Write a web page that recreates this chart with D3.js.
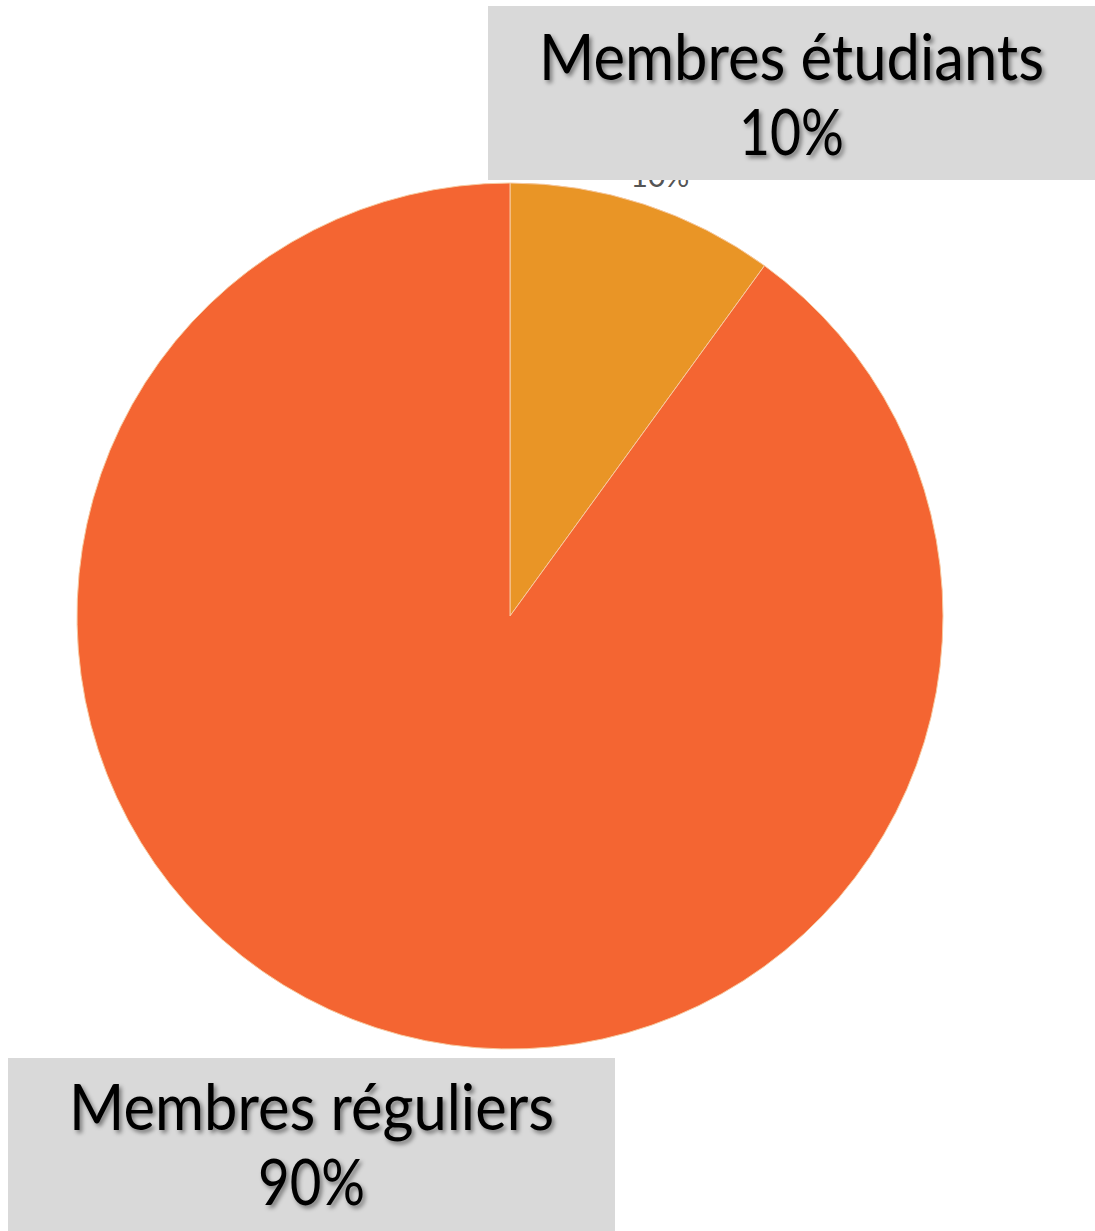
<!DOCTYPE html>
<html>
<head>
  <meta charset="UTF-8">
  <style>
    body {
      margin: 0;
      padding: 0;
      background-color: #ffffff;
    }
    svg {
      display: block;
    }
    .big-label {
      font-family: Lato, "Open Sans", sans-serif;
      font-size: 63px;
      fill: #000000;
    }
  </style>
</head>
<body>
  <svg></svg>
  <script src="https://d3js.org/d3.v7.min.js"></script>

  <script>
  let width = 1095, height = 1231;

  // data
  const categories = ["Membres étudiants", "Membres réguliers"];
  const shares = [10, 90];
  const percentLabels = ["10%", "90%"];
  const sliceColors = ["#E99526", "#F46532"];

  let svg = d3.select("svg")
      .attr("width", width)
      .attr("height", height)
      .attr("viewBox", "0 0 " + width + " " + height);

  const defs = svg.append("defs");
  const shadow = defs.append("filter")
      .attr("id", "textShadow")
      .attr("x", "-10%").attr("y", "-20%")
      .attr("width", "130%").attr("height", "150%");
  shadow.append("feDropShadow")
      .attr("dx", 2.5)
      .attr("dy", 3)
      .attr("stdDeviation", 2)
      .attr("flood-color", "#000")
      .attr("flood-opacity", 0.45);

  const cx = 510, cy = 616, radius = 433;

  const pie = d3.pie().sort(null).value(d => d);
  const arcs = pie(shares);

  const arc = d3.arc().innerRadius(0).outerRadius(radius);
  const labelArc = d3.arc().innerRadius(radius + 20).outerRadius(radius + 20);

  const pieG = svg.append("g")
      .attr("transform", `translate(${cx}, ${cy})`);

  pieG.selectAll("path")
      .data(arcs)
      .enter()
      .append("path")
      .attr("d", arc)
      .attr("fill", (d, i) => sliceColors[i])
      .attr("stroke", "#f7c9a0")
      .attr("stroke-width", 1);

  // the chart's own small label for the small slice, mostly hidden by the callout box
  pieG.append("text")
      .attr("x", labelArc.centroid(arcs[0])[0] + 10)
      .attr("y", -radius + 4)
      .attr("text-anchor", "middle")
      .style("font-family", "Lato, sans-serif")
      .style("font-size", "30px")
      .style("fill", "#555")
      .text(percentLabels[0]);

  // callout boxes
  const boxes = [
    {x: 488, y: 6, w: 607, h: 174, line1: 80, line2: 155, len1: 505, len2: 105},
    {x: 8, y: 1058, w: 607, h: 173, line1: 1130, line2: 1205, len1: 485, len2: 107}
  ];

  const callouts = svg.append("g")
      .selectAll("g")
      .data(categories)
      .enter()
      .append("g");

  callouts.append("rect")
      .attr("x", (d, i) => boxes[i].x)
      .attr("y", (d, i) => boxes[i].y)
      .attr("width", (d, i) => boxes[i].w)
      .attr("height", (d, i) => boxes[i].h)
      .attr("fill", "#d9d9d9");

  callouts.append("text")
      .attr("class", "big-label")
      .attr("x", (d, i) => boxes[i].x + boxes[i].w / 2)
      .attr("y", (d, i) => boxes[i].line1)
      .attr("text-anchor", "middle")
      .attr("textLength", (d, i) => boxes[i].len1)
      .attr("lengthAdjust", "spacingAndGlyphs")
      .attr("filter", "url(#textShadow)")
      .text(d => d);

  callouts.append("text")
      .attr("class", "big-label")
      .attr("x", (d, i) => boxes[i].x + boxes[i].w / 2)
      .attr("y", (d, i) => boxes[i].line2)
      .attr("text-anchor", "middle")
      .attr("textLength", (d, i) => boxes[i].len2)
      .attr("lengthAdjust", "spacingAndGlyphs")
      .attr("filter", "url(#textShadow)")
      .text((d, i) => percentLabels[i]);
  </script>

</body>
</html>
